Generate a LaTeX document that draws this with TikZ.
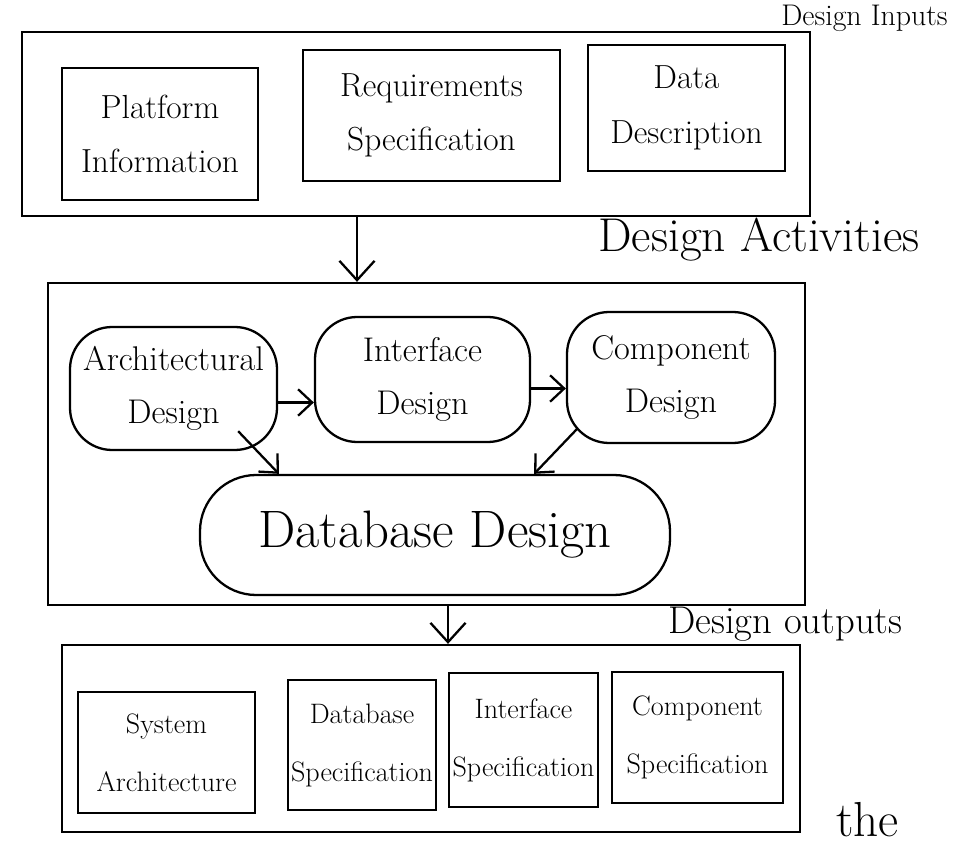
\documentclass[tikz,border=0pt]{standalone}
\usetikzlibrary{arrows.meta,fit}
\begin{document}
\begin{tikzpicture}[x=0.02cm,y=-0.02cm,
  lw/.style={line width=1.3pt},
  frame/.style={draw,lw,inner sep=0pt},
  inbox/.style={draw,lw,inner sep=0pt},
  activity/.style={draw,lw,inner sep=0pt,rounded corners=24pt},
  intext/.style={align=center,font=\fontsize{19}{31}\selectfont},
  acttext/.style={align=center,font=\fontsize{19.5}{30}\selectfont},
  outtext/.style={align=center,font=\fontsize{16}{33}\selectfont},
  flow/.style={-{Straight Barb[length=8pt,width=15pt]},lw},
  bigflow/.style={-{Straight Barb[length=11pt,width=20pt]},lw},
  heading/.style={inner sep=0pt}]
\useasboundingbox (0,0) rectangle (957,844);

% ---- Design inputs ----
\node[heading,anchor=base east,font=\fontsize{17}{20}\selectfont] (hin) at (948,26) {Design Inputs};
\node[frame,fit={(22,32) (810,216)}] (inputs) {};
\node[inbox,fit={(62,68) (258,200)}] (plat) {};
\node[intext] at (plat.center) {Platform\\Information};
\node[inbox,fit={(303,50) (560,181)}] (req) {};
\node[intext] at (req.center) {Requirements\\Specification};
\node[inbox,fit={(588,45) (785,171)}] (data) {};
\node[intext] at (data.center) {Data\\Description};

% ---- Design activities ----
\node[heading,anchor=base west,font=\fontsize{27}{30}\selectfont] (hact) at (598,252) {Design Activities};
\node[frame,fit={(48,283) (805,605)}] (acts) {};
\node[activity,fit={(70,327) (277,450)}] (arch) {};
\node[acttext] at (arch.center) {Architectural\\Design};
\node[activity,fit={(315,317) (530,442)}] (iface) {};
\node[acttext] at (iface.center) {Interface\\Design};
\node[activity,fit={(567,312) (775,443)}] (comp) {};
\node[acttext] at (comp.center) {Component\\Design};
\node[activity,rounded corners=32pt,fit={(200,475) (670,595)}] (db) {};
\node[font=\fontsize{30}{34}\selectfont] at (db.center) {Database Design};

\draw[bigflow] (inputs.south -| 357,0) -- (acts.north -| 357,0);
\draw[flow] (arch.east) ++(0,14) coordinate (a1) -- (a1 -| iface.west);
\draw[flow] (iface.east) ++(0,9) coordinate (i1) -- (i1 -| comp.west);
\draw[flow] (arch.south east) ++(-40,-20) coordinate (a2) -- ([xshift=80*0.02cm]db.north west);
\draw[flow] (comp.south west) ++(11,-15) coordinate (c2) -- ([xshift=-137*0.02cm]db.north east);

% ---- Design outputs ----
\node[heading,anchor=base west,font=\fontsize{22}{26}\selectfont] (hout) at (668,633) {Design outputs};
\node[frame,fit={(62,645) (800,832)}] (outs) {};
\node[inbox,fit={(78,692) (255,813)}] (sys) {};
\node[outtext] at (sys.center) {System\\Architecture};
\node[inbox,fit={(288,680) (436,810)}] (dbs) {};
\node[outtext] at (dbs.center) {Database\\Specification};
\node[inbox,fit={(449,673) (598,807)}] (ifs) {};
\node[outtext] at (ifs.center) {Interface\\Specification};
\node[inbox,fit={(612,672) (783,803)}] (cps) {};
\node[outtext] at (cps.center) {Component\\Specification};

\draw[bigflow] (acts.south -| 448,0) -- (outs.north -| 448,0);

\node[heading,anchor=base west,font=\fontsize{28}{30}\selectfont] (tail) at (836,836) {the};
\end{tikzpicture}
\end{document}
